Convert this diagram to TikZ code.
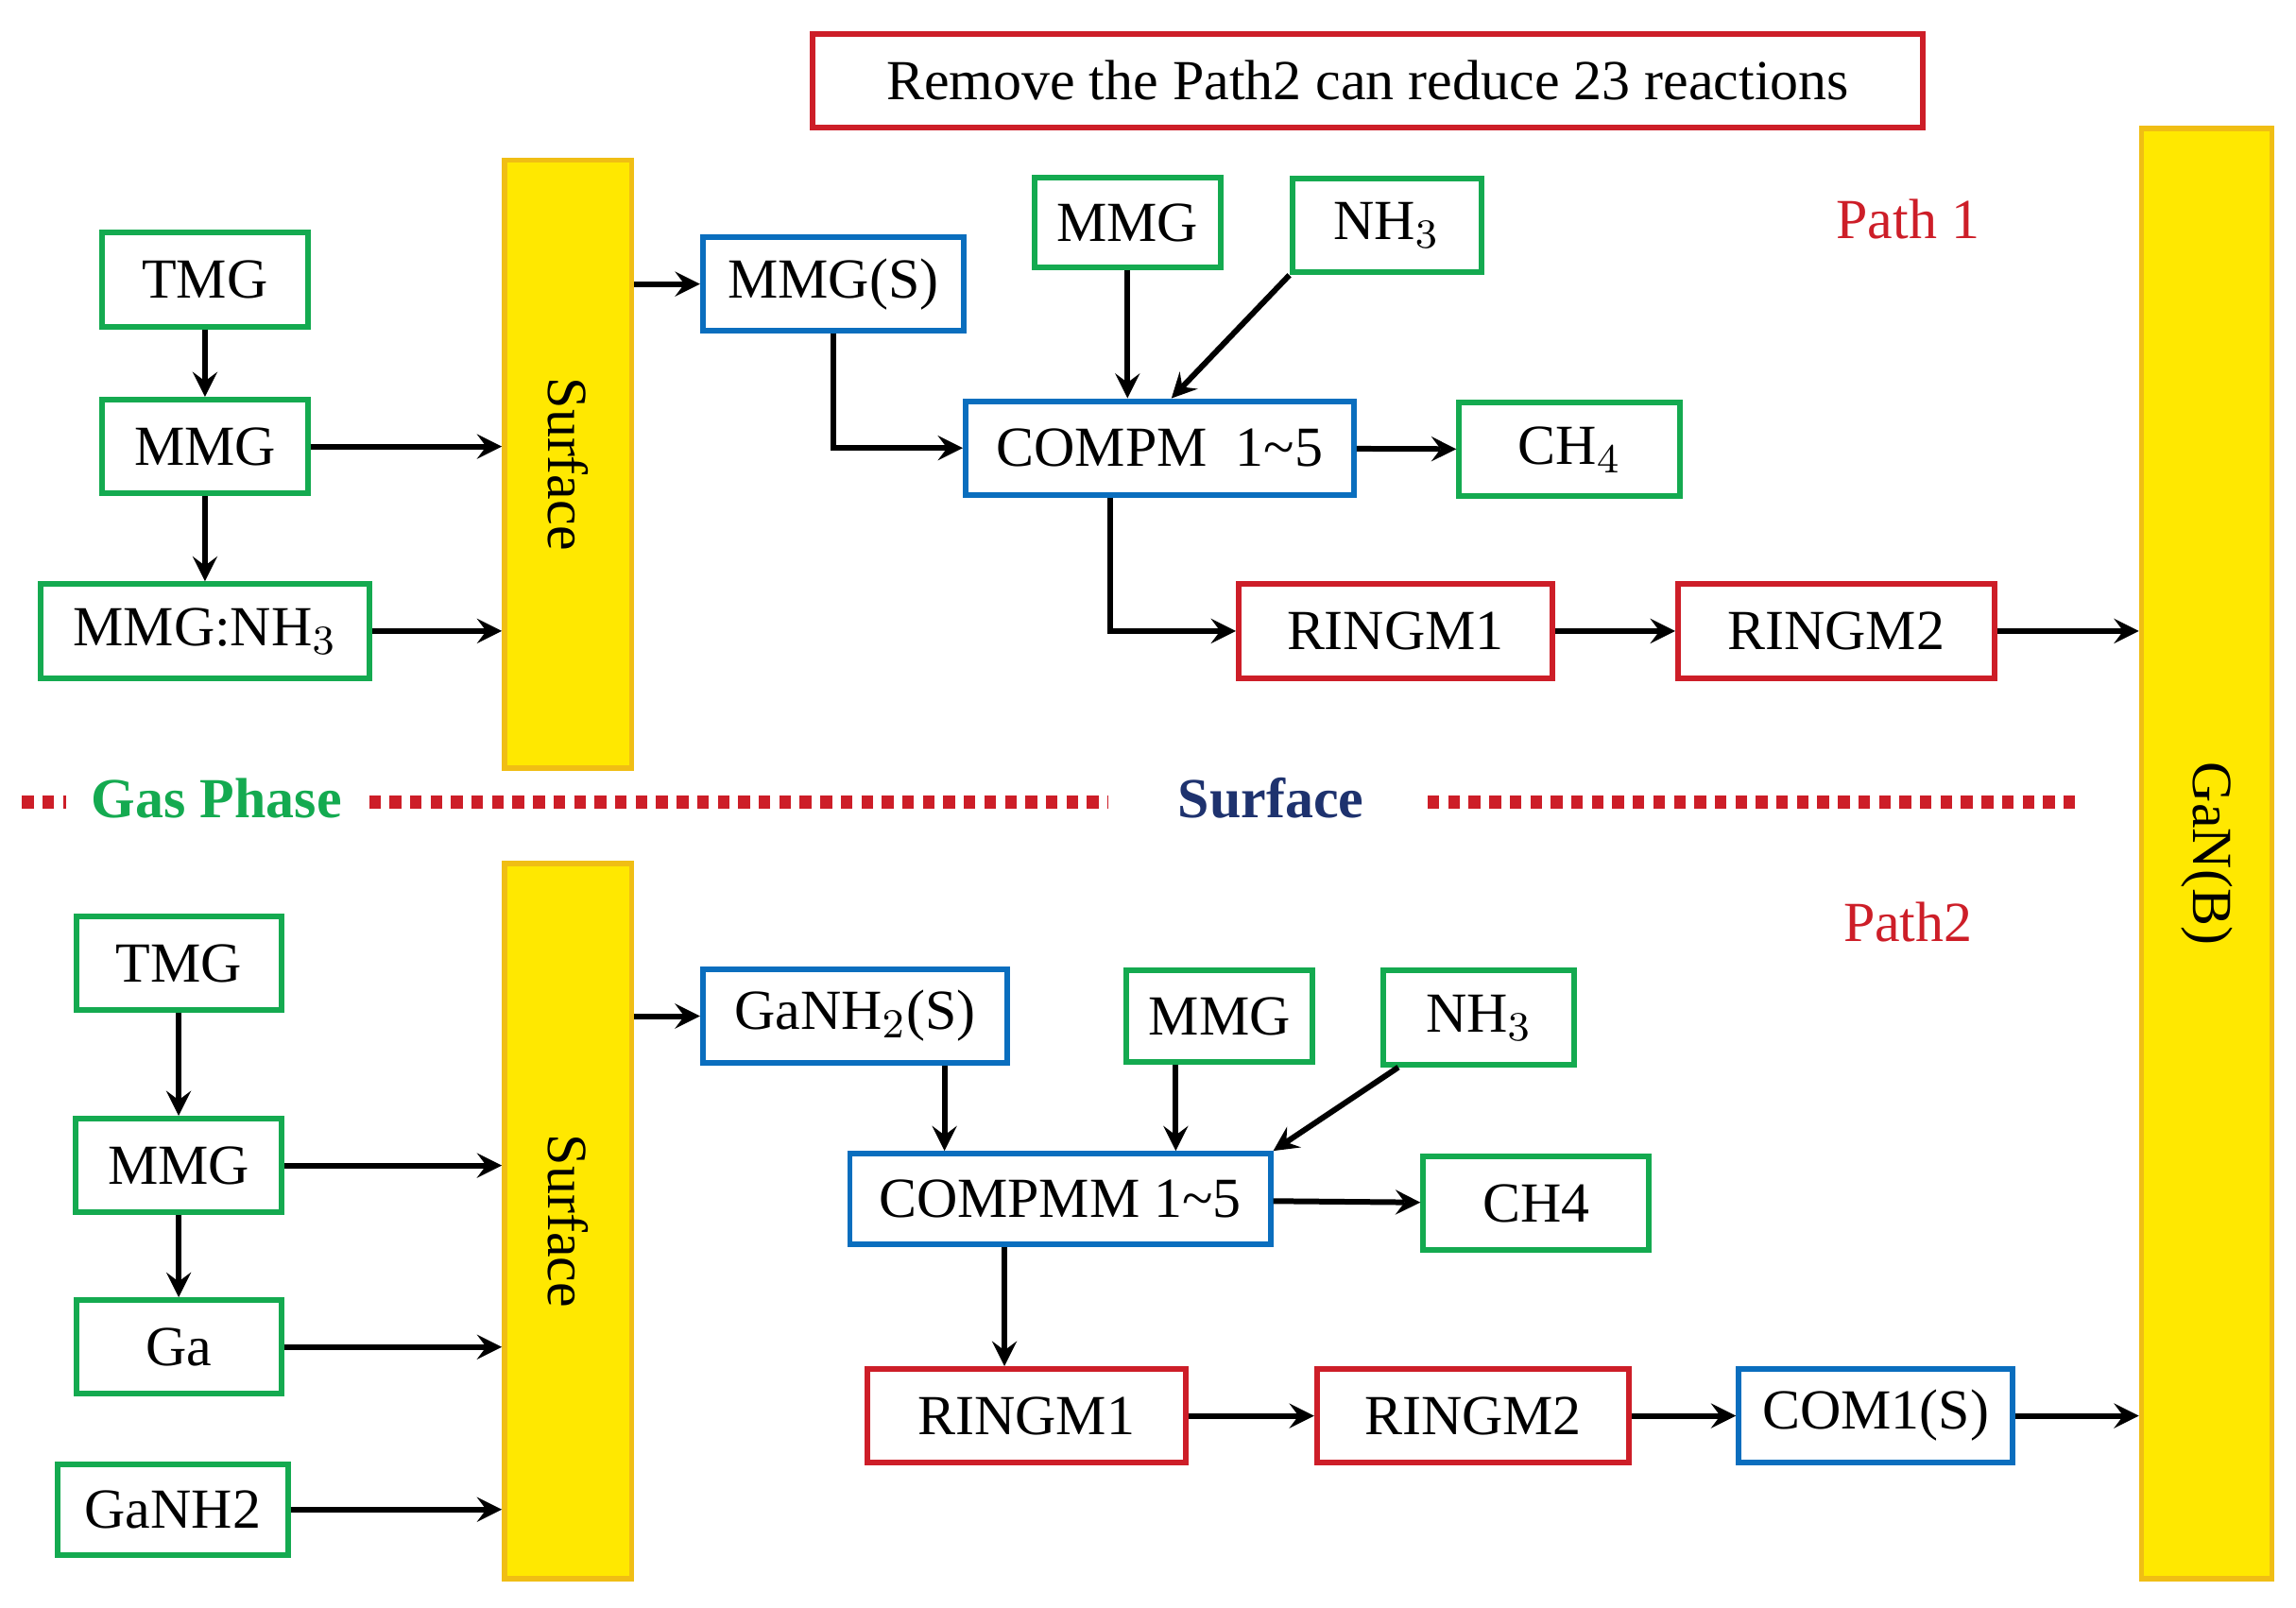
\documentclass[tikz,border=0pt]{standalone}
\usepackage{fontspec}
\setmainfont{Liberation Serif}
\usetikzlibrary{positioning}
\definecolor{boxgreen}{RGB}{20,170,80}
\definecolor{boxblue}{RGB}{10,110,190}
\definecolor{boxred}{RGB}{205,30,40}
\definecolor{baryellow}{RGB}{255,232,0}
\definecolor{baredge}{RGB}{240,190,20}
\definecolor{surfblue}{RGB}{30,50,110}
\tikzset{
  box/.style = {draw, line width=1.1pt, inner sep=0pt, minimum height=0.64cm,
    font=\fontsize{11}{13}\selectfont},
  gbox/.style = {box, draw=boxgreen},
  bbox/.style = {box, draw=boxblue},
  rbox/.style = {box, draw=boxred},
  bar/.style = {draw=baredge, fill=baryellow, line width=1pt, inner sep=0pt,
    font=\fontsize{11}{13}\selectfont},
  arr/.style = {-stealth, line width=1.1pt},
  sep/.style = {boxred, line width=0.09cm, dash pattern=on 0.08cm off 0.06cm}
}
\begin{document}
\begin{tikzpicture}[x=0.01cm, y=-0.01cm]
  \useasboundingbox (0,0) rectangle (1568,1098);
  % header
  \node[rbox, minimum width=7.58cm] (note) at (934,55) {Remove the Path2 can reduce 23 reactions};
  \node[text=boxred, font=\fontsize{11}{13}\selectfont] (path1) at (1303,150) {Path 1};
  \node[text=boxred, font=\fontsize{11}{13}\selectfont] (path2) at (1303,630) {Path2};

  % bars
  \node[bar, minimum width=0.87cm, minimum height=4.15cm] (surf1) at (388,317) {};
  \node[rotate=-90, font=\fontsize{11}{13}\selectfont] at (surf1) {Surface};
  \node[bar, minimum width=0.87cm, minimum height=4.88cm] (surf2) at (388,834) {};
  \node[rotate=-90, font=\fontsize{11}{13}\selectfont] at (surf2) {Surface};
  \node[bar, minimum width=0.89cm, minimum height=9.90cm] (ganb) at (1507,583) {};
  \node[rotate=-90, font=\fontsize{11}{13}\selectfont] at (ganb) {GaN(B)};

  % separator
  \draw[sep] (15,548) -- (45,548);
  \draw[sep] (252,548) -- (757,548);
  \draw[sep] (975,548) -- (1420,548);
  \node[text=boxgreen, font=\bfseries\fontsize{11}{13}\selectfont] (gas) at (148,545) {Gas Phase};
  \node[text=surfblue, font=\bfseries\fontsize{11}{13}\selectfont] (surface) at (868,545) {Surface};

  % path 1
  \node[gbox, minimum width=1.40cm] (tmg1) at (140,191) {TMG};
  \node[gbox, minimum width=1.40cm] (mmg1) at (140,305) {MMG};
  \node[gbox, minimum width=2.25cm] (adduct1) at (140,431) {MMG:NH$_3$};
  \node[bbox, minimum width=1.78cm] (mmgs) at (569,194) {MMG(S)};
  \node[gbox, minimum width=1.27cm, minimum height=0.61cm] (mmg1b) at (770,152) {MMG};
  \node[gbox, minimum width=1.29cm] (nh1) at (947,154) {NH$_3$};
  \node[bbox, minimum width=2.65cm] (compm) at (792,306) {COMPM\ \ 1\textasciitilde5};
  \node[gbox, minimum width=1.51cm] (ch1) at (1072,307) {CH$_4$};
  \node[rbox, minimum width=2.14cm] (ring1a) at (953,431) {RINGM1};
  \node[rbox, minimum width=2.16cm] (ring1b) at (1254,431) {RINGM2};

  \draw[arr] (tmg1) -- (mmg1);
  \draw[arr] (mmg1) -- (adduct1);
  \draw[arr] (mmg1) -- (mmg1 -| surf1.west);
  \draw[arr] (adduct1) -- (adduct1 -| surf1.west);
  \draw[arr] (surf1.east |- mmgs) -- (mmgs);
  \draw[arr] (mmgs.south) |- (compm);
  \draw[arr] (mmg1b) -- (mmg1b |- compm.north);
  \draw[arr] (nh1.south west) -- ([xshift=0.08cm]compm.north);
  \draw[arr] (compm) -- (ch1);
  \draw[arr] ([xshift=-0.34cm]compm.south) |- (ring1a);
  \draw[arr] (ring1a) -- (ring1b);
  \draw[arr] (ring1b) -- (ring1b -| ganb.west);

  % path 2
  \node[gbox, minimum width=1.40cm] (tmg2) at (122,658) {TMG};
  \node[gbox, minimum width=1.41cm] (mmg2) at (122,796) {MMG};
  \node[gbox, minimum width=1.40cm] (ga) at (122,920) {Ga};
  \node[gbox, minimum width=1.57cm, minimum height=0.62cm] (ganh2) at (118,1031) {GaNH2};
  \node[bbox, minimum width=2.08cm] (ganh2s) at (584,694) {GaNH$_2$(S)};
  \node[gbox, minimum width=1.27cm, minimum height=0.63cm] (mmg2b) at (833,694) {MMG};
  \node[gbox, minimum width=1.30cm] (nh2) at (1010,695) {NH$_3$};
  \node[bbox, minimum width=2.87cm, minimum height=0.62cm] (compmm) at (724,819) {COMPMM\ 1\textasciitilde5};
  \node[gbox, minimum width=1.54cm] (ch2) at (1049,822) {CH4};
  \node[rbox, minimum width=2.17cm] (ring2a) at (701,967) {RINGM1};
  \node[rbox, minimum width=2.13cm] (ring2b) at (1006,967) {RINGM2};
  \node[bbox, minimum width=1.87cm] (com1) at (1281,967) {COM1(S)};

  \draw[arr] (tmg2) -- (mmg2);
  \draw[arr] (mmg2) -- (ga);
  \draw[arr] (mmg2) -- (mmg2 -| surf2.west);
  \draw[arr] (ga) -- (ga -| surf2.west);
  \draw[arr] (ganh2) -- (ganh2 -| surf2.west);
  \draw[arr] (surf2.east |- ganh2s) -- (ganh2s);
  \draw[arr] ([xshift=0.61cm]ganh2s.south) -- ([xshift=0.61cm]ganh2s.south |- compmm.north);
  \draw[arr] ([xshift=-0.30cm]mmg2b.south) -- ([xshift=-0.30cm]mmg2b.south |- compmm.north);
  \draw[arr] ([xshift=-0.55cm]nh2.south) -- (compmm.north east);
  \draw[arr] (compmm) -- (ch2);
  \draw[arr] ([xshift=-0.38cm]compmm.south) -- ([xshift=-0.38cm]compmm.south |- ring2a.north);
  \draw[arr] (ring2a) -- (ring2b);
  \draw[arr] (ring2b) -- (com1);
  \draw[arr] (com1) -- (com1 -| ganb.west);
\end{tikzpicture}
\end{document}
